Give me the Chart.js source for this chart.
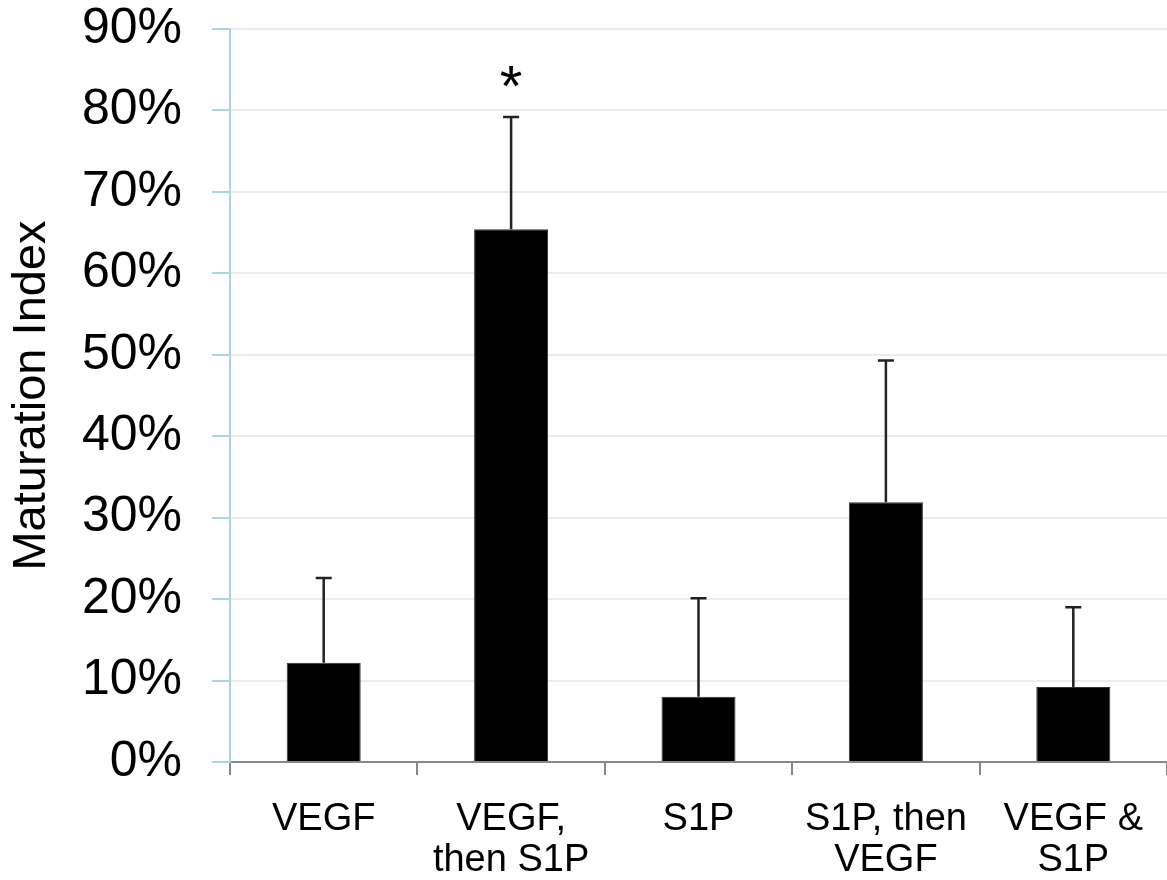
<!DOCTYPE html>
<html>
<head>
<meta charset="utf-8">
<script src="https://cdn.jsdelivr.net/npm/chart.js@4/dist/chart.umd.min.js"></script>
<style>
    html, body { margin: 0; padding: 0; background: #fff; }
    #wrap { width: 1167px; height: 880px; position: relative; }
</style>
</head>
<body>
<div id="wrap"><canvas id="chart"></canvas></div>
<script>
// Maturation index per treatment (percent)
const categories = [['VEGF'], ['VEGF,', 'then S1P'], ['S1P'], ['S1P, then', 'VEGF'], ['VEGF &', 'S1P']];
const meanValues = [12.2, 65.4, 8.0, 31.9, 9.2];
const errorValues = [10.4, 13.8, 12.1, 17.4, 9.8];
const significance = ['', '*', '', '', ''];
const yTicks = [0, 10, 20, 30, 40, 50, 60, 70, 80, 90];

// draws the upward error whiskers and the significance marks
const errorBarPlugin = {
    id: 'errorBars',
    afterDatasetsDraw(chart) {
        const ctx = chart.ctx;
        const yScale = chart.scales.y;
        const meta = chart.getDatasetMeta(0);
        ctx.save();
        meta.data.forEach((bar, i) => {
            const x = bar.x;
            const yTop = yScale.getPixelForValue(meanValues[i]);
            const yErr = yScale.getPixelForValue(meanValues[i] + errorValues[i]);
            ctx.strokeStyle = '#222';
            ctx.lineWidth = 2.5;
            ctx.beginPath();
            ctx.moveTo(x, yTop);
            ctx.lineTo(x, yErr);
            ctx.moveTo(x - 8, yErr);
            ctx.lineTo(x + 8, yErr);
            ctx.stroke();
            if (significance[i]) {
                ctx.fillStyle = '#000';
                ctx.font = '58px "Liberation Sans", Arial, sans-serif';
                ctx.textAlign = 'center';
                ctx.textBaseline = 'alphabetic';
                ctx.fillText(significance[i], x, yErr - 11);
            }
        });
        ctx.restore();
    }
};

new Chart(document.getElementById('chart'), {
    type: 'bar',
    data: {
        labels: categories,
        datasets: [{
            data: meanValues,
            backgroundColor: '#000',
            borderColor: '#333',
            borderWidth: 1,
            barPercentage: 0.395,
            categoryPercentage: 1
        }]
    },
    options: {
        responsive: true,
        maintainAspectRatio: false,
        animation: false,
        layout: { padding: 0 },
        plugins: {
            legend: { display: false },
            tooltip: { enabled: false }
        },
        scales: {
            x: {
                offset: true,
                grid: {
                    display: true,
                    drawOnChartArea: false,
                    color: '#888',
                    tickLength: 13,
                    lineWidth: 2
                },
                border: { color: '#888', width: 2 },
                ticks: {
                    color: '#000',
                    padding: 24,
                    maxRotation: 0,
                    font: { family: '"Liberation Sans", Arial, sans-serif', size: 38, lineHeight: 1.08 }
                },
                afterFit(scale) { scale.height = 118; }
            },
            y: {
                min: 0,
                max: 90,
                afterBuildTicks(scale) { scale.ticks = yTicks.map(v => ({ value: v })); },
                grid: {
                    color: '#ececec',
                    lineWidth: 2,
                    tickColor: '#a8d8dc',
                    tickLength: 18
                },
                border: { color: '#a8d8dc', width: 2 },
                ticks: {
                    color: '#000',
                    padding: 30,
                    callback: v => v + '%',
                    font: { family: '"Liberation Sans", Arial, sans-serif', size: 50, lineHeight: 1.16 }
                },
                title: {
                    display: true,
                    text: 'Maturation Index',
                    color: '#000',
                    font: { family: '"Liberation Sans", Arial, sans-serif', size: 47 },
                    padding: { top: 4, bottom: 0 }
                },
                afterFit(scale) {
                    scale.width = 230;
                    scale.paddingTop = 29;
                }
            }
        }
    },
    plugins: [errorBarPlugin]
});
</script>
</body>
</html>
